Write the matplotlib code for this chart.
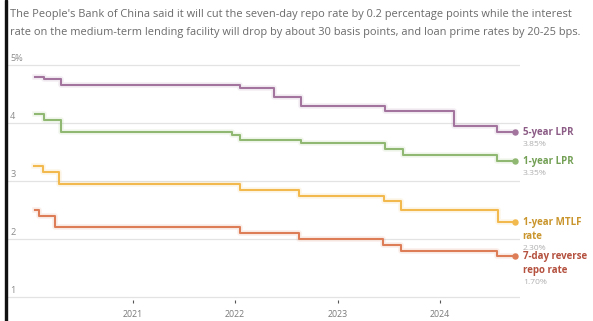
import matplotlib
matplotlib.use("Agg")
import matplotlib.pyplot as plt
import matplotlib.dates as mdates
import matplotlib.patheffects as pe
from matplotlib.patches import Rectangle
import pandas as pd

plt.rcParams["font.family"] = ["Open Sans", "DejaVu Sans"]

# policy rate step changes (date of change, new level in %)
lpr5_dates = ["2020-01-20", "2020-02-20", "2020-04-20", "2022-01-20", "2022-05-20",
              "2022-08-22", "2023-06-20", "2024-02-20", "2024-07-22", "2024-09-24"]
lpr5_vals = [4.80, 4.75, 4.65, 4.60, 4.45, 4.30, 4.20, 3.95, 3.85, 3.85]

lpr1_dates = ["2020-01-20", "2020-02-20", "2020-04-20", "2021-12-20", "2022-01-20",
              "2022-08-22", "2023-06-20", "2023-08-21", "2024-07-22", "2024-09-24"]
lpr1_vals = [4.15, 4.05, 3.85, 3.80, 3.70, 3.65, 3.55, 3.45, 3.35, 3.35]

mlf_dates = ["2020-01-15", "2020-02-17", "2020-04-15", "2022-01-17", "2022-08-15",
             "2023-06-15", "2023-08-15", "2024-07-25", "2024-09-24"]
mlf_vals = [3.25, 3.15, 2.95, 2.85, 2.75, 2.65, 2.50, 2.30, 2.30]

repo_dates = ["2020-01-20", "2020-02-03", "2020-03-30", "2022-01-17", "2022-08-15",
              "2023-06-13", "2023-08-15", "2024-07-22", "2024-09-24"]
repo_vals = [2.50, 2.40, 2.20, 2.10, 2.00, 1.90, 1.80, 1.70, 1.70]

series_names = [["5-year LPR"], ["1-year LPR"], ["1-year MTLF", "rate"], ["7-day reverse", "repo rate"]]
line_colors = ["#a2749e", "#90b872", "#f2b94e", "#dd7d57"]
name_colors = ["#8c5c86", "#73a055", "#c9952c", "#b4513f"]

y_ticks = [1, 2, 3, 4, 5]
y_tick_labels = ["1", "2", "3", "4", "5%"]
x_years = [2021, 2022, 2023, 2024]

subtitle = ("The People's Bank of China said it will cut the seven-day repo rate by 0.2 percentage points while the interest\n"
            "rate on the medium-term lending facility will drop by about 30 basis points, and loan prime rates by 20-25 bps.")

PX = 0.72  # points per pixel at 100 dpi

fig = plt.figure(figsize=(5.93, 3.21), dpi=100)
ax = fig.add_axes([7 / 593, 1 - 300 / 321, 513 / 593, 238 / 321])

series = [(lpr5_dates, lpr5_vals), (lpr1_dates, lpr1_vals),
          (mlf_dates, mlf_vals), (repo_dates, repo_vals)]

for y, label in zip(y_ticks, y_tick_labels):
    ax.axhline(y, color="#e3e3e3", lw=0.9, zorder=0)
    ax.text(0.006, y + 0.04, label, transform=ax.get_yaxis_transform(),
            fontsize=6.6, color="#8a8a8a", va="bottom", ha="left")

for (dates, vals), names, lc, nc in zip(series, series_names, line_colors, name_colors):
    d = pd.to_datetime(dates)
    ax.step(d, vals, where="post", color=lc, lw=1.5, zorder=3,
            path_effects=[pe.Stroke(linewidth=4, foreground=lc, alpha=0.12), pe.Normal()])
    ax.plot(d[-1], vals[-1], "o", ms=3.6, color=lc, zorder=4)
    # end labels: name lines 14 px apart, value 13 px under the last line
    for i, name in enumerate(names):
        ax.annotate(name, (d[-1], vals[-1]), xytext=(7.5 * PX, (-14 * i - 0.5) * PX),
                    textcoords="offset points", fontsize=7.0, fontweight="bold",
                    color=nc, va="center", ha="left", annotation_clip=False)
    ax.annotate(f"{vals[-1]:.2f}%", (d[-1], vals[-1]),
                xytext=(7.5 * PX, -(14 * (len(names) - 1) + 12.5) * PX),
                textcoords="offset points", fontsize=6.1, color="#b0b0b0",
                va="center", ha="left", annotation_clip=False)

ax.set_xlim(pd.Timestamp("2019-10-12"), pd.Timestamp("2024-10-11"))
ax.set_ylim(0.95, 5.05)
ax.set_xticks([pd.Timestamp(f"{y}-01-01") for y in x_years])
ax.xaxis.set_major_formatter(mdates.DateFormatter("%Y"))
ax.tick_params(axis="x", length=2.5, width=0.8, color="#555555", labelsize=6.4,
               labelcolor="#7a7a7a", pad=5)
ax.set_yticks([])
for s in ax.spines.values():
    s.set_visible(False)
ax.patch.set_alpha(0)

fig.text(10 / 593, 1 - 9 / 321, subtitle, fontsize=7.95, color="#6a6a6a",
         va="top", ha="left", linespacing=1.9)
fig.patches.append(Rectangle((4.5 / 593, 0), 2.5 / 593, 1, transform=fig.transFigure,
                             color="#111111", zorder=5))

fig.savefig("out.png", dpi=100)
